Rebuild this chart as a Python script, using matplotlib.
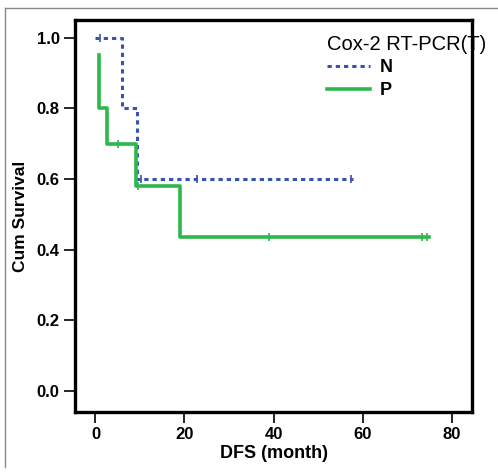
import matplotlib
matplotlib.use("Agg")
import matplotlib.pyplot as plt
from matplotlib.lines import Line2D

plt.rcParams['font.family'] = ['Liberation Sans', 'DejaVu Sans']

BLUE = '#3a52b0'
GREEN = '#2fb84a'

# Kaplan-Meier steps
n_time = [0.0, 5.9, 9.3, 57.8]
n_surv = [1.0, 0.8, 0.6, 0.6]
n_cens_time = [1.0, 10.3, 22.9, 57.5]
n_cens_surv = [1.0, 0.6, 0.6, 0.6]

p_time = [0.9, 0.9, 2.7, 9.1, 19.0, 75.0]
p_surv = [0.95, 0.8, 0.7, 0.58, 0.435, 0.435]
p_cens_time = [5.0, 9.6, 39.0, 73.3, 74.4]
p_cens_surv = [0.7, 0.58, 0.435, 0.435, 0.435]

x_ticks = [0, 20, 40, 60, 80]
y_ticks = [0.0, 0.2, 0.4, 0.6, 0.8, 1.0]

fig = plt.figure(figsize=(4.98, 4.74), dpi=100)
ax = fig.add_axes([75 / 498, 1 - 412 / 474, 397 / 498, 392 / 474])

ax.plot(n_time, n_surv, drawstyle='steps-post', color=BLUE, lw=2.2,
        dashes=(1.4, 1.3), dash_capstyle='butt', label='N')
ax.plot(n_cens_time, n_cens_surv, ls='none', marker='|', ms=6, mew=1.2, color=BLUE)
ax.plot(p_time, p_surv, drawstyle='steps-post', color=GREEN, lw=2.6, label='P')
ax.plot(p_cens_time, p_cens_surv, ls='none', marker='|', ms=6, mew=1.2, color=GREEN)

ax.set_xlim(-4.6, 84.6)
ax.set_ylim(-0.06, 1.05)
ax.set_xticks(x_ticks)
ax.set_yticks(y_ticks)
ax.set_yticklabels([f'{v:.1f}' for v in y_ticks])
for s in ax.spines.values():
    s.set_linewidth(2.4)
ax.tick_params(length=8, width=1.2, pad=3, labelsize=12)
for lab in ax.get_xticklabels() + ax.get_yticklabels():
    lab.set_fontweight('bold')

ax.set_xlabel('DFS (month)', fontsize=13, fontweight='bold', labelpad=2)
ax.set_ylabel('Cum Survival', fontsize=12.5, fontweight='bold', labelpad=6)

leg = ax.legend(title='Cox-2 RT-PCR(T)', loc='upper left',
                bbox_to_anchor=(318 / 498, 1 - 26 / 474), bbox_transform=fig.transFigure,
                frameon=False, handlelength=2.4, handletextpad=0.5, labelspacing=0.3,
                prop={'size': 13, 'weight': 'bold'},
                title_fontproperties={'size': 14.5}, alignment='left', borderpad=0)
leg.set_zorder(2)

# outer frame pieces (left and top only)
fig.add_artist(Line2D([5 / 498, 5 / 498], [1 - 467 / 474, 1 - 8 / 474], transform=fig.transFigure,
                      color='#8a8a8a', lw=1))
fig.add_artist(Line2D([5 / 498, 1], [1 - 8 / 474, 1 - 8 / 474], transform=fig.transFigure,
                      color='#8a8a8a', lw=1))

fig.savefig('out.png', dpi=100)
